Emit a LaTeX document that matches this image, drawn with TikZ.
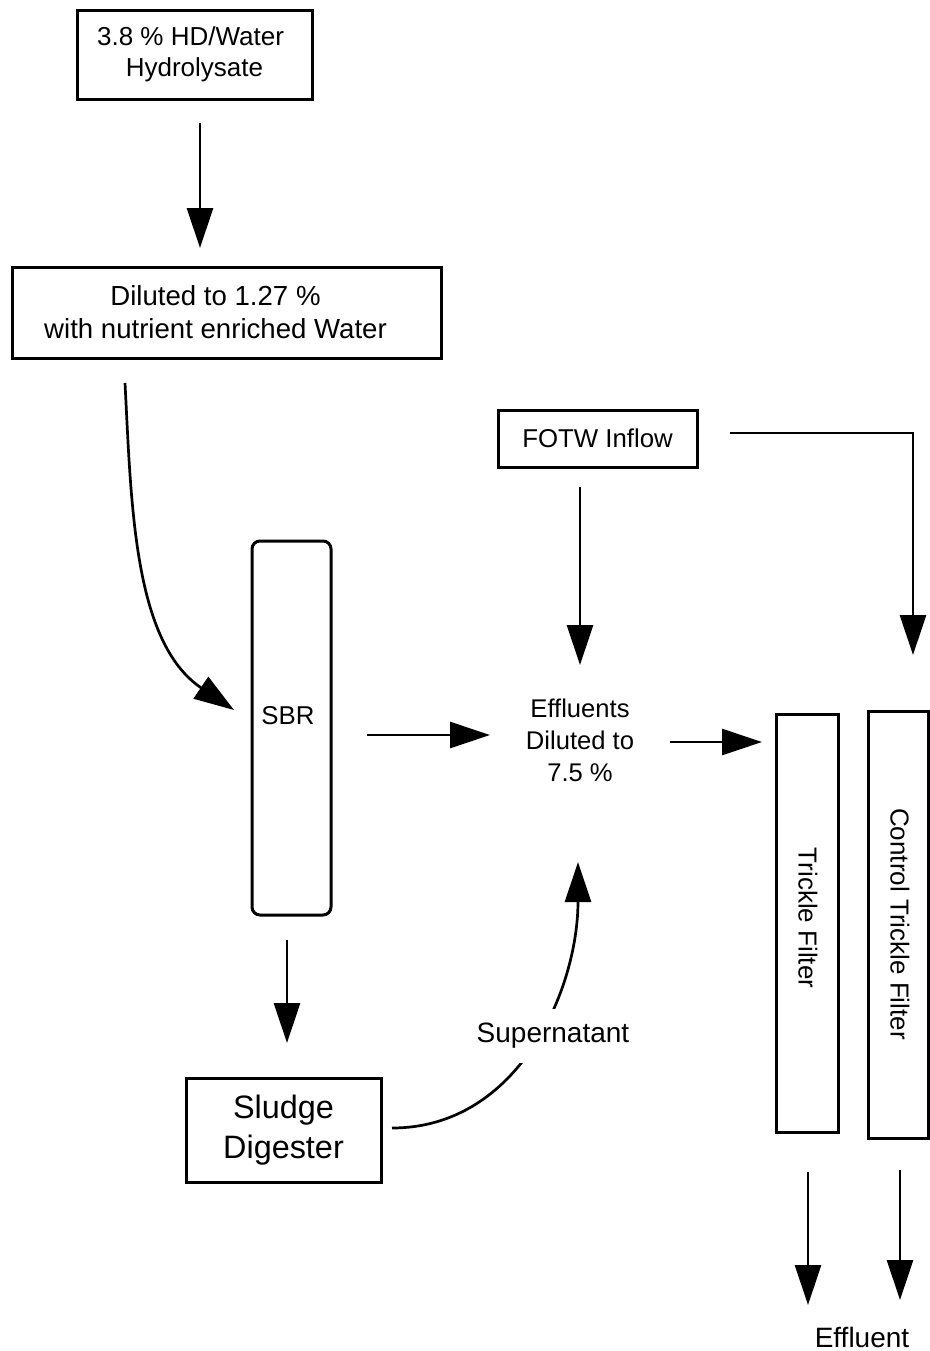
\documentclass[tikz,border=0pt]{standalone}
\usepackage{fontspec}
\setmainfont{Liberation Sans}
\usetikzlibrary{shapes,arrows.meta,positioning,calc}

\begin{document}
\begin{tikzpicture}[x=0.5pt, y=-0.5pt,
    box/.style={rectangle, draw, line width=1.5pt, inner sep=0pt, align=center},
    flow/.style={line width=1.35pt, -{Triangle[width=13pt, length=20pt]}},
    lbl/.style={align=center, inner sep=0pt}]
    \useasboundingbox (0,0) rectangle (930,1351);

    % process boxes
    \node[box, minimum width=117.5pt, minimum height=44.5pt,
          font=\fontsize{13}{15.5}\selectfont] (hyd) at (194.5,54.5) {3.8 \% HD/Water\hspace*{4pt}\\Hydrolysate};
    \node[box, minimum width=214.5pt, minimum height=45.5pt,
          font=\fontsize{13.8}{16.5}\selectfont] (dil) at (226.5,312.5) {Diluted to 1.27 \%\hspace*{11pt}\\with nutrient enriched Water\hspace*{11pt}};
    \node[box, rounded corners=4pt, minimum width=39.5pt, minimum height=187pt] (sbr) at (291.5,728) {};
    \node[lbl, font=\fontsize{12.9}{15}\selectfont] (sbrtxt) at (288,716) {SBR};
    \node[box, minimum width=99.5pt, minimum height=28.5pt,
          font=\fontsize{12.9}{15}\selectfont] (fotw) at (597.5,438.5) {FOTW Inflow};
    \node[lbl, font=\fontsize{12.8}{16}\selectfont] (eff) at (580,740) {Effluents\\Diluted to\\7.5 \%};
    \node[box, minimum width=97.5pt, minimum height=52pt,
          font=\fontsize{16.2}{20}\selectfont] (sd) at (283.5,1130) {Sludge\\Digester};
    \node[box, minimum width=31pt, minimum height=209pt] (tf) at (807,923) {};
    \node[lbl, rotate=-90, font=\fontsize{13}{15}\selectfont] (tftxt) at (808,918) {Trickle Filter};
    \node[box, minimum width=30pt, minimum height=213.5pt] (ctf) at (898,924.5) {};
    \node[lbl, rotate=-90, font=\fontsize{13}{15}\selectfont] (ctftxt) at (900,924) {Control Trickle Filter};
    \node[lbl, font=\fontsize{14}{16}\selectfont] (out) at (862,1337) {Effluent};

    % arrow ends
    \coordinate (hyd-o) at (200,123);
    \coordinate (dil-i) at (200,248);
    \coordinate (dil-o) at (125,383);
    \coordinate (sbr-i) at (234,710);
    \coordinate (sbr-o) at (367,735);
    \coordinate (eff-l) at (490,735);
    \coordinate (fotw-o) at (580,487);
    \coordinate (eff-t) at (580,665);
    \coordinate (fotw-r) at (730,433);
    \coordinate (bend) at (913,433);
    \coordinate (ctf-i) at (913,655);
    \coordinate (eff-o) at (670,742);
    \coordinate (tf-i) at (762,742);
    \coordinate (sbr-b) at (287,940);
    \coordinate (sd-i) at (287,1043);
    \coordinate (sd-o) at (392,1128);
    \coordinate (eff-b) at (578,862);
    \coordinate (tf-o) at (808,1172);
    \coordinate (tf-e) at (808,1305);
    \coordinate (ctf-o) at (900,1170);
    \coordinate (ctf-e) at (900,1300);

    % flows
    \draw[flow] (hyd-o) -- (dil-i);
    \draw[flow] (dil-o) to[out=-87, in=146, looseness=0.9] (sbr-i);
    \draw[flow] (sbr-o) -- (eff-l);
    \draw[flow] (fotw-o) -- (eff-t);
    \draw[flow] (fotw-r) -- (bend) -- (ctf-i);
    \draw[flow] (eff-o) -- (tf-i);
    \draw[flow] (sbr-b) -- (sd-i);
    \draw[flow] (sd-o) to[out=0, in=-90] (eff-b);
    \draw[flow] (tf-o) -- (tf-e);
    \draw[flow] (ctf-o) -- (ctf-e);

    % label over the supernatant line
    \node[lbl, fill=white, inner xsep=2pt, inner ysep=7pt,
          font=\fontsize{14}{16}\selectfont] (sup) at (553,1036) {Supernatant};
\end{tikzpicture}
\end{document}
